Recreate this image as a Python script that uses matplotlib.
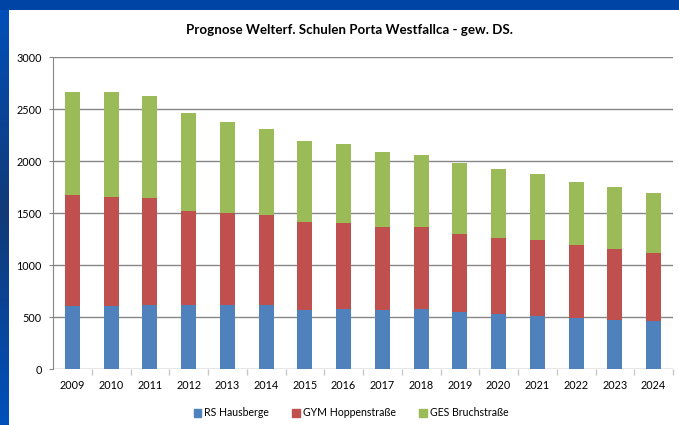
import numpy as np
import matplotlib
matplotlib.use('Agg')
import matplotlib.pyplot as plt
import matplotlib.patches as mpatches

plt.rcParams['font.family'] = ['Lato', 'DejaVu Sans']

# data
years = ['2009', '2010', '2011', '2012', '2013', '2014', '2015', '2016',
         '2017', '2018', '2019', '2020', '2021', '2022', '2023', '2024']
rs_hausberge = [606, 606, 612, 612, 612, 612, 567, 574,
                567, 577, 548, 529, 510, 490, 471, 458]
gym_hoppenstr = [1067, 1048, 1032, 907, 885, 869, 846, 830,
                 798, 788, 750, 731, 730, 702, 683, 657]
ges_bruchstr = [990, 1009, 981, 942, 878, 827, 779, 759,
                722, 693, 683, 663, 635, 606, 596, 577]
series_names = ['RS Hausberge', 'GYM Hoppenstraße', 'GES Bruchstraße']
colors = ['#4F81BD', '#C0504D', '#9BBB59']

W, H = 679, 425
fig = plt.figure(figsize=(W / 100, H / 100), dpi=100)

# blue gradient frame behind the white chart area
bg = fig.add_axes([0, 0, 1, 1], zorder=-10)
grad = np.concatenate([np.linspace(0, 1, 50), np.linspace(1, 0, 50)])
cmap = matplotlib.colors.LinearSegmentedColormap.from_list('frame', ['#0050bc', '#123a78'])
bg.imshow(grad[:, None], aspect='auto', cmap=cmap, extent=[0, 1, 0, 1])
bg.add_patch(mpatches.Rectangle((0, 1 - 10 / H), 1, 10 / H, color='#0045a6', lw=0))
bg.add_patch(mpatches.Rectangle((9 / W, 0), 1, 1 - 10 / H, color='white', lw=0))
bg.set_xlim(0, 1)
bg.set_ylim(0, 1)
bg.axis('off')

ax = fig.add_axes([53 / W, 1 - 369 / H, (673 - 53) / W, (369 - 57) / H])
ax.set_facecolor('none')

x = np.arange(len(years))
bottom = np.zeros(len(years))
handles = []
for vals, name, c in zip([rs_hausberge, gym_hoppenstr, ges_bruchstr], series_names, colors):
    vals = np.array(vals)
    ax.bar(x, vals, width=0.39, bottom=bottom, color=c, zorder=3)
    bottom += vals
    handles.append(mpatches.Patch(color=c, label=name))

ax.set_xlim(-0.5, len(years) - 0.5)
ax.set_ylim(0, 3000)
ax.set_yticks(np.arange(0, 3001, 500))
ax.yaxis.grid(True, color='#868686', lw=1)
ax.set_axisbelow(True)

ax.set_xticks(x)
ax.set_xticklabels(years, fontsize=7.8)
ax.tick_params(axis='x', length=0, pad=8)
ax.set_xticks(np.arange(0.5, len(years), 1), minor=True)
ax.tick_params(axis='x', which='minor', length=4, color='#c8c8c8', width=1)
ax.tick_params(axis='y', labelsize=7.8, length=3, color='#868686', pad=5)

for s in ['top', 'right', 'bottom']:
    ax.spines[s].set_visible(False)
ax.spines['left'].set_color('#868686')

fig.text(349 / W, 1 - 30 / H, 'Prognose Welterf. Schulen Porta Westfallca - gew. DS.',
         ha='center', va='center', fontsize=9.6, fontweight='bold')

fig.legend(handles=handles, loc='center', bbox_to_anchor=(351 / W, 1 - 413 / H),
           ncol=3, frameon=False, fontsize=7.6, handlelength=0.7, handleheight=0.7,
           handletextpad=0.3, columnspacing=2.2)

fig.savefig('out.png', dpi=100)
